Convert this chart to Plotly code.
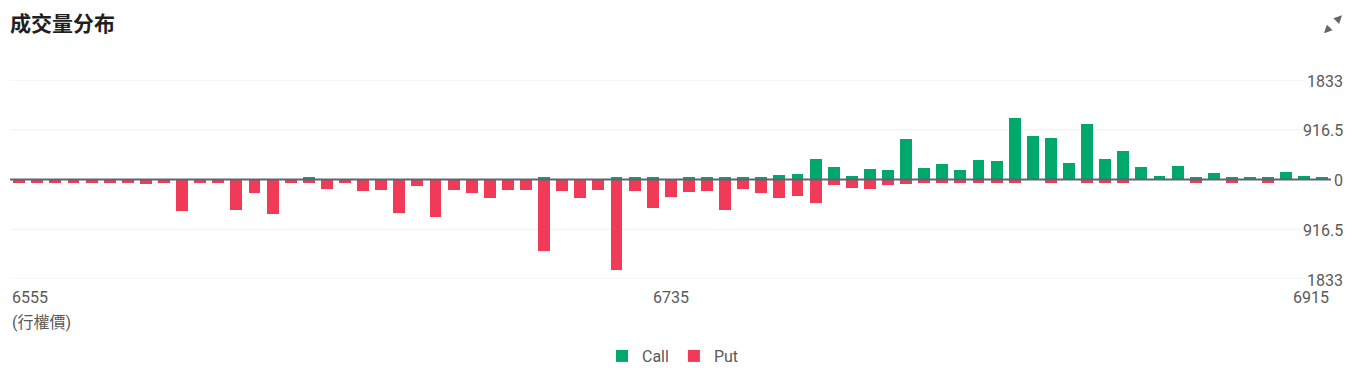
import plotly.graph_objects as go

# ---------------- data ----------------
strikes = [6555, 6560, 6565, 6570, 6575, 6580, 6585, 6590, 6595, 6600,
           6605, 6610, 6615, 6620, 6625, 6630, 6635, 6640, 6645, 6650,
           6655, 6660, 6665, 6670, 6675, 6680, 6685, 6690, 6695, 6700,
           6705, 6710, 6715, 6720, 6725, 6730, 6735, 6740, 6745, 6750,
           6755, 6760, 6765, 6770, 6775, 6780, 6785, 6790, 6795, 6800,
           6805, 6810, 6815, 6820, 6825, 6830, 6835, 6840, 6845, 6850,
           6855, 6860, 6865, 6870, 6875, 6880, 6885, 6890, 6895, 6900,
           6905, 6910, 6915]

call_volume = [0, 0, 0, 0, 0, 0, 0, 0, 0, 0,
               0, 0, 0, 0, 0, 0, 50, 0, 0, 0,
               0, 0, 0, 0, 0, 0, 0, 0, 0, 50,
               0, 0, 0, 50, 50, 50, 0, 50, 50, 50,
               50, 50, 80, 98, 373, 232, 61, 189, 177, 752,
               220, 293, 183, 354, 336, 1130, 794, 758, 312, 1014,
               385, 519, 238, 73, 244, 45, 128, 45, 45, 45,
               147, 73, 45]

put_volume = [60, 60, 60, 60, 65, 60, 60, 90, 60, 580,
              60, 70, 556, 250, 635, 60, 60, 177, 60, 214,
              196, 617, 128, 691, 189, 251, 342, 196, 196, 1326,
              214, 342, 202, 1674, 214, 526, 318, 232, 214, 556,
              177, 251, 336, 306, 428, 110, 159, 171, 104, 86,
              60, 60, 60, 60, 60, 60, 0, 60, 0, 60,
              60, 60, 0, 0, 0, 60, 0, 60, 0, 60,
              0, 0, 0]

y_tick_vals = [1833, 916.5, 0, -916.5, -1833]
y_tick_text = ["1833", "916.5", "0", "916.5", "1833"]
x_tick_vals = [6555, 6735, 6915]
x_tick_text = ["6555", "6735", "6915"]
x_axis_name = "(行權價)"
title_text = "成交量分布"
series_names = ["Call", "Put"]

# ---------------- style ----------------
CALL_COLOR = "#00a86b"
PUT_COLOR = "#f03a58"
TEXT_COLOR = "#595959"
FONT = "Roboto, 'Noto Sans CJK TC', sans-serif"
OFF = 8                      # page body margin
W, H = 1362 - OFF, 374 - OFF
ML, MR, MT, MB = 2, 15, 72, 94
PLOT_W = W - ML - MR
PLOT_H = H - MT - MB


def px_to_paper_x(px):
    return (px - OFF - ML) / PLOT_W


def px_to_paper_y(py):
    return (H - MB - (py - OFF)) / PLOT_H


fig = go.Figure()
fig.add_trace(go.Bar(x=strikes, y=call_volume, name=series_names[0],
                     marker=dict(color=CALL_COLOR, line=dict(width=0)),
                     width=3.3))
fig.add_trace(go.Bar(x=strikes, y=[-v for v in put_volume], name=series_names[1],
                     marker=dict(color=PUT_COLOR, line=dict(width=0)),
                     width=3.3))

shapes = []
for v in y_tick_vals:
    if v == 0:
        continue
    shapes.append(dict(type="line", xref="paper", yref="y",
                       x0=0, x1=px_to_paper_x(1305), y0=v, y1=v,
                       line=dict(color="#efefef", width=1), layer="below"))
shapes.append(dict(type="line", xref="paper", yref="y",
                   x0=0, x1=px_to_paper_x(1331), y0=0, y1=0,
                   line=dict(color="#5b6673", width=2), layer="above"))

annotations = []
# y tick labels (right side)
for v, t in zip(y_tick_vals, y_tick_text):
    annotations.append(dict(x=1, xref="paper", y=v, yref="y", text=t, showarrow=False,
                            xanchor="right", yanchor="middle", xshift=-2, yshift=-1,
                            font=dict(family=FONT, size=16, color=TEXT_COLOR)))
# x tick labels
anchors = ["left", "center", "right"]
for i, (v, t) in enumerate(zip(x_tick_vals, x_tick_text)):
    if i == 0:
        ax_x, xref = 0, "paper"
    elif i == len(x_tick_vals) - 1:
        ax_x, xref = v + 2.3, "x"
    else:
        ax_x, xref = v, "x"
    annotations.append(dict(x=ax_x, xref=xref, y=px_to_paper_y(299), yref="paper",
                            text=t, showarrow=False, xanchor=anchors[i], yanchor="middle",
                            font=dict(family=FONT, size=16, color=TEXT_COLOR)))
annotations.append(dict(x=0, xref="paper", y=px_to_paper_y(324), yref="paper",
                        text=x_axis_name, showarrow=False, xanchor="left", yanchor="middle",
                        font=dict(family=FONT, size=16, color=TEXT_COLOR)))
# expand icon (two small arrows)
annotations.append(dict(x=px_to_paper_x(1342), y=px_to_paper_y(15), xref="paper", yref="paper",
                        text="", showarrow=True, ax=-7, ay=7, arrowhead=2, arrowsize=0.9,
                        arrowwidth=1.8, arrowcolor="#666666"))
annotations.append(dict(x=px_to_paper_x(1324), y=px_to_paper_y(33), xref="paper", yref="paper",
                        text="", showarrow=True, ax=7, ay=-7, arrowhead=2, arrowsize=0.9,
                        arrowwidth=1.8, arrowcolor="#666666"))

fig.update_layout(
    width=W, height=H, autosize=False,
    margin=dict(l=ML, r=MR, t=MT, b=MB, pad=0),
    paper_bgcolor="white", plot_bgcolor="white",
    barmode="overlay", bargap=0,
    title=dict(text=title_text, x=(10 - OFF) / W, xanchor="left", xref="container",
               y=1 - (24 - OFF) / H, yanchor="middle", yref="container",
               font=dict(family="'Noto Sans CJK SC', sans-serif", size=21, color="#1f1f1f", weight="bold")),
    xaxis=dict(range=[6555 - 9.2 / 3.62, 6555 + (PLOT_W - 9.2) / 3.62],
               showgrid=False, zeroline=False, showticklabels=False, showline=False,
               ticks="", fixedrange=True),
    yaxis=dict(range=[-1833, 1833], side="right", tickvals=y_tick_vals,
               showticklabels=False, showgrid=False, zeroline=False, showline=False,
               ticks="", fixedrange=True),
    showlegend=True,
    legend=dict(orientation="h", x=px_to_paper_x(673), xanchor="center", y=px_to_paper_y(356),
                yanchor="middle", font=dict(family=FONT, size=16, color=TEXT_COLOR),
                traceorder="normal", itemclick=False, itemdoubleclick=False),
    shapes=shapes, annotations=annotations,
)

fig.write_html("out.html")
